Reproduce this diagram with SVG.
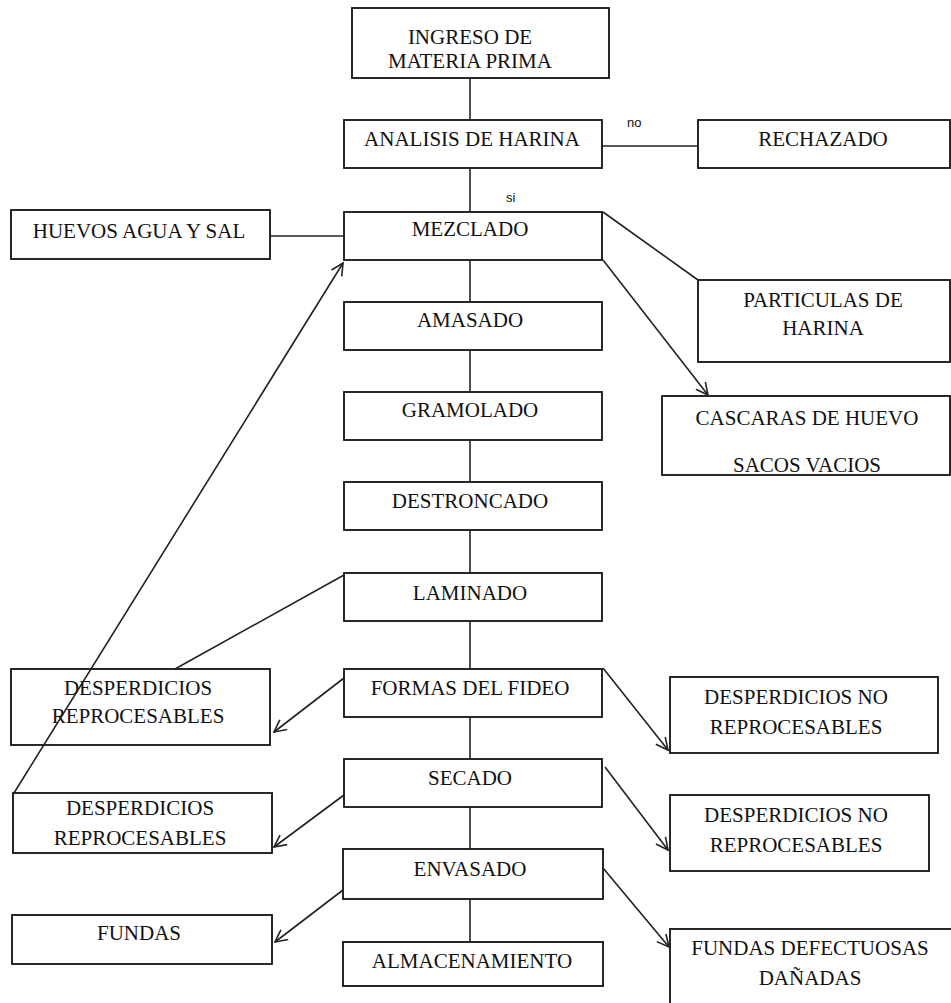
<svg xmlns="http://www.w3.org/2000/svg" width="951" height="1003" viewBox="0 0 951 1003">
<style>
.box{fill:#fff;stroke:#111;stroke-width:1.8}
.t{font-family:"Liberation Serif","Times New Roman",serif;font-size:21px;fill:#111;text-anchor:middle}
.s{font-family:"Liberation Sans",Arial,sans-serif;font-size:13px;fill:#111}
.c{stroke:#222;stroke-width:1.6;fill:none}
</style>
<defs>
<marker id="ah" markerUnits="userSpaceOnUse" markerWidth="16" markerHeight="16" viewBox="0 0 16 16" refX="14" refY="8" orient="auto">
<path d="M2,2 L14,8 L2,14" fill="none" stroke="#222" stroke-width="1.6"/>
</marker>
</defs>
<rect width="951" height="1003" fill="#fff"/>
<g id="ingreso"><rect class="box" x="352" y="8" width="257" height="70"/><text class="t" x="470" y="44">INGRESO DE</text><text class="t" x="470" y="68">MATERIA PRIMA</text></g>
<g id="analisis"><rect class="box" x="344" y="120" width="258" height="48"/><text class="t" x="472" y="146">ANALISIS DE HARINA</text></g>
<g id="rechazado"><rect class="box" x="698" y="120" width="252" height="48"/><text class="t" x="823" y="146">RECHAZADO</text></g>
<g id="mezclado"><rect class="box" x="344" y="212" width="258" height="48"/><text class="t" x="470" y="236">MEZCLADO</text></g>
<g id="huevos"><rect class="box" x="11" y="210" width="259" height="49"/><text class="t" x="139" y="238">HUEVOS AGUA Y SAL</text></g>
<g id="particulas"><rect class="box" x="698" y="280" width="252" height="82"/><text class="t" x="823" y="307">PARTICULAS DE</text><text class="t" x="823" y="335">HARINA</text></g>
<g id="amasado"><rect class="box" x="344" y="302" width="258" height="48"/><text class="t" x="470" y="327">AMASADO</text></g>
<g id="cascaras"><rect class="box" x="662" y="396" width="288" height="79"/><text class="t" x="807" y="425">CASCARAS DE HUEVO</text><text class="t" x="807" y="472">SACOS VACIOS</text></g>
<g id="gramolado"><rect class="box" x="344" y="392" width="258" height="48"/><text class="t" x="470" y="417">GRAMOLADO</text></g>
<g id="destroncado"><rect class="box" x="344" y="482" width="258" height="48"/><text class="t" x="470" y="508">DESTRONCADO</text></g>
<g id="laminado"><rect class="box" x="344" y="573" width="258" height="48"/><text class="t" x="470" y="600">LAMINADO</text></g>
<g id="desp-rep-1"><rect class="box" x="11" y="669" width="259" height="76"/><text class="t" x="138" y="695">DESPERDICIOS</text><text class="t" x="138" y="723">REPROCESABLES</text></g>
<g id="formas"><rect class="box" x="344" y="669" width="258" height="48"/><text class="t" x="470" y="695">FORMAS DEL FIDEO</text></g>
<g id="desp-norep-1"><rect class="box" x="670" y="677" width="268" height="76"/><text class="t" x="796" y="704">DESPERDICIOS NO</text><text class="t" x="796" y="734">REPROCESABLES</text></g>
<g id="secado"><rect class="box" x="344" y="759" width="258" height="48"/><text class="t" x="470" y="785">SECADO</text></g>
<g id="desp-rep-2"><rect class="box" x="13" y="793" width="259" height="60"/><text class="t" x="140" y="815">DESPERDICIOS</text><text class="t" x="140" y="845">REPROCESABLES</text></g>
<g id="desp-norep-2"><rect class="box" x="670" y="795" width="259" height="76"/><text class="t" x="796" y="822">DESPERDICIOS NO</text><text class="t" x="796" y="852">REPROCESABLES</text></g>
<g id="envasado"><rect class="box" x="343" y="849" width="260" height="50"/><text class="t" x="470" y="876">ENVASADO</text></g>
<g id="fundas"><rect class="box" x="12" y="915" width="260" height="49"/><text class="t" x="139" y="940">FUNDAS</text></g>
<g id="almacenamiento"><rect class="box" x="343" y="942" width="260" height="44"/><text class="t" x="472" y="968">ALMACENAMIENTO</text></g>
<g id="fundas-def"><rect class="box" x="670" y="929" width="290" height="90"/><text class="t" x="810" y="955">FUNDAS DEFECTUOSAS</text><text class="t" x="810" y="985">DAÑADAS</text></g>
<g id="connectors">
<line class="c" x1="470" y1="78" x2="470" y2="120"/>
<line class="c" x1="470" y1="168" x2="470" y2="212"/>
<line class="c" x1="470" y1="260" x2="470" y2="302"/>
<line class="c" x1="470" y1="350" x2="470" y2="392"/>
<line class="c" x1="470" y1="440" x2="470" y2="482"/>
<line class="c" x1="470" y1="530" x2="470" y2="573"/>
<line class="c" x1="470" y1="621" x2="470" y2="669"/>
<line class="c" x1="470" y1="717" x2="470" y2="759"/>
<line class="c" x1="470" y1="807" x2="470" y2="849"/>
<line class="c" x1="470" y1="899" x2="470" y2="942"/>
<line class="c" x1="602" y1="146" x2="698" y2="146"/>
<line class="c" x1="270" y1="236" x2="344" y2="236"/>
<line class="c" x1="603" y1="212" x2="698" y2="280"/>
<line class="c" x1="603" y1="260" x2="708" y2="395" marker-end="url(#ah)"/>
<line class="c" x1="344" y1="575" x2="175" y2="669"/>
<line class="c" x1="344" y1="678" x2="274" y2="732" marker-end="url(#ah)"/>
<line class="c" x1="344" y1="795" x2="274" y2="847" marker-end="url(#ah)"/>
<line class="c" x1="343" y1="890" x2="275" y2="942" marker-end="url(#ah)"/>
<line class="c" x1="14" y1="793" x2="343" y2="263" marker-end="url(#ah)"/>
<line class="c" x1="603" y1="668" x2="668" y2="750" marker-end="url(#ah)"/>
<line class="c" x1="605" y1="767" x2="668" y2="850" marker-end="url(#ah)"/>
<line class="c" x1="603" y1="868" x2="669" y2="947" marker-end="url(#ah)"/>
<text class="s" x="627" y="127">no</text>
<text class="s" x="506" y="202">si</text>
</g>
</svg>
